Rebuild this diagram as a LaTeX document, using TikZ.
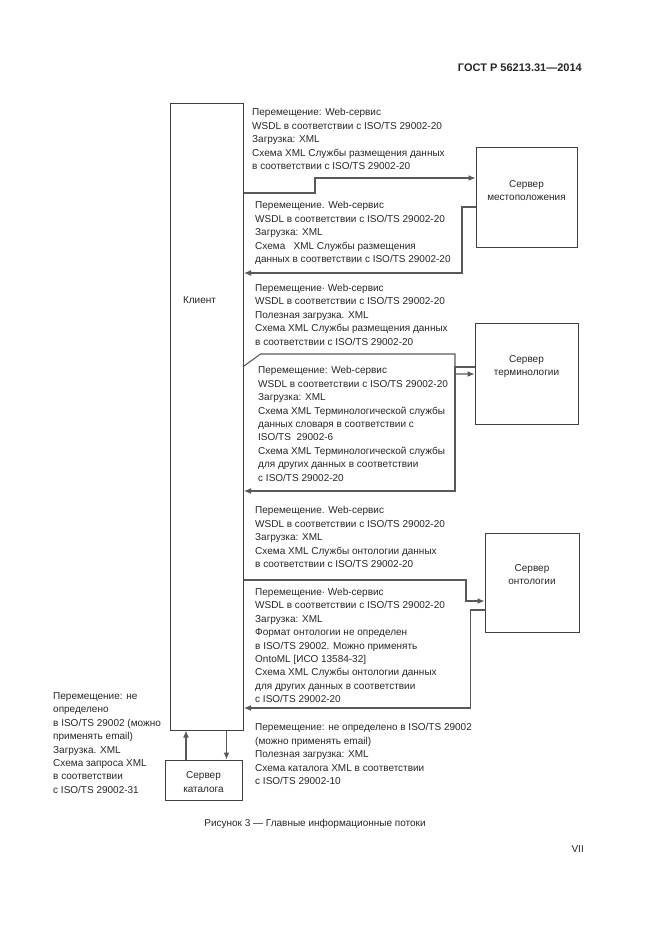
\documentclass[tikz,border=0pt]{standalone}
\usepackage{fontspec}
\setmainfont{Liberation Sans}
\usetikzlibrary{arrows.meta}
\tikzset{
  box/.style={draw=black!75, line width=1pt, inner sep=0pt},
  boxlbl/.style={align=center, inner sep=0pt, text=black!85, font=\fontsize{10}{13.4}\selectfont},
  flow/.style={draw=black!65, line width=1.1pt},
  tip/.style={-{Latex[length=7pt,width=6pt]}},
  msg/.style={anchor=north west, align=left, inner sep=0pt, text=black!85, font=\fontsize{10}{13.4}\selectfont, execute at begin node=\strut},
}
\begin{document}
\begin{tikzpicture}[x=1pt, y=-1pt]
    \useasboundingbox (0,0) rectangle (661,935);
    \node (client) at (206.75,416.5) [box, minimum width=73.5pt, minimum height=627pt] {};
    \node (locsrv) at (526.5,197) [box, minimum width=101pt, minimum height=100pt] {};
    \node (termsrv) at (526.5,373.5) [box, minimum width=103pt, minimum height=101pt] {};
    \node (ontosrv) at (532,582.5) [box, minimum width=94pt, minimum height=99pt] {};
    \node (catsrv) at (203.5,780) [box, minimum width=77pt, minimum height=40pt] {};
    \node (clientlbl) at (199.5,300.5) [boxlbl] {Клиент};
    \node (loclbl) at (526.5,190.5) [boxlbl] {Сервер\\местоположения};
    \node (termlbl) at (526.5,366.5) [boxlbl] {Сервер\\терминологии};
    \node (ontolbl) at (532,574.5) [boxlbl] {Сервер\\онтологии};
    \node (catlbl) at (203.5,782) [boxlbl] {Сервер\\каталога};
    \coordinate (l1) at (315,193);
    \coordinate (l2) at (315,178);
    \draw[flow, tip] (client.east |- l1) -- (l1) -- (l2) -- (locsrv.west |- l2);
    \coordinate (l3) at (462,207);
    \coordinate (l4) at (462,273);
    \draw[flow, tip] (locsrv.west |- l3) -- (l3) -- (l4) -- (client.east |- l4);
    \coordinate (t0) at (243.5,366);
    \coordinate (t1) at (260.5,354);
    \coordinate (t2) at (455,354);
    \coordinate (t3) at (455,374);
    \draw[flow, tip] (client.east |- t0) -- (t1) -- (t2) -- (t3) -- (termsrv.west |- t3);
    \coordinate (t4) at (455,367);
    \coordinate (t5) at (455,491);
    \draw[flow, tip] (termsrv.west |- t4) -- (t4) -- (t5) -- (client.east |- t5);
    \coordinate (o1) at (466,580);
    \coordinate (o2) at (466,601);
    \draw[flow, tip] (client.east |- o1) -- (o1) -- (o2) -- (ontosrv.west |- o2);
    \coordinate (o3) at (470.5,610);
    \coordinate (o4) at (470.5,708);
    \draw[flow, tip] (ontosrv.west |- o3) -- (o3) -- (o4) -- (client.east |- o4);
    \coordinate (k1) at (186,745);
    \coordinate (k2) at (226.5,745);
    \draw[flow, tip] (catsrv.north -| k1) -- (client.south -| k1);
    \draw[flow, tip] (client.south -| k2) -- (catsrv.north -| k2);
    \node (locreq) at (252,108.5) [msg] {Перемещение: Web-сервис\\WSDL в соответствии с ISO/TS 29002-20\\Загрузка: XML\\Схема XML Службы размещения данных\\в соответствии с ISO/TS 29002-20};
    \node (locresp) at (255,201.5) [msg] {Перемещение. Web-сервис\\WSDL в соответствии с ISO/TS 29002-20\\Загрузка: XML\\Схема\ \ \ XML Службы размещения\\данных в соответствии с ISO/TS 29002-20};
    \node (termreq) at (255,284) [msg] {Перемещение· Web-сервис\\WSDL в соответствии с ISO/TS 29002-20\\Полезная загрузка. XML\\Схема XML Службы размещения данных\\в соответствии с ISO/TS 29002-20};
    \node (termresp) at (258,366.5) [msg] {Перемещение: Web-сервис\\WSDL в соответствии с ISO/TS 29002-20\\Загрузка: XML\\Схема XML Терминологической службы\\данных словаря в соответствии с\\ISO/TS\ \ 29002-6\\Схема XML Терминологической службы\\для других данных в соответствии\\с ISO/TS 29002-20};
    \node (ontoreq) at (255,506.5) [msg] {Перемещение. Web-сервис\\WSDL в соответствии с ISO/TS 29002-20\\Загрузка: XML\\Схема XML Службы онтологии данных\\в соответствии с ISO/TS 29002-20};
    \node (ontoresp) at (255,588) [msg] {Перемещение· Web-сервис\\WSDL в соответствии с ISO/TS 29002-20\\Загрузка: XML\\Формат онтологии не определен\\в ISO/TS 29002. Можно применять\\OntoML [ИСО 13584-32]\\Схема XML Службы онтологии данных\\для других данных в соответствии\\с ISO/TS 29002-20};
    \node (catreq) at (53,692.5) [msg] {Перемещение: не\\определено\\в ISO/TS 29002 (можно\\применять email)\\Загрузка. XML\\Схема запроса XML\\в соответствии\\с ISO/TS 29002-31};
    \node (catresp) at (255,723.5) [msg] {Перемещение: не определено в ISO/TS 29002\\(можно применять email)\\Полезная загрузка: XML\\Схема каталога XML в соответствии\\с ISO/TS 29002-10};
    \node (gost) at (582,71) [anchor=base east, inner sep=0pt, text=black!85, font=\bfseries\fontsize{11}{13}\selectfont] {ГОСТ Р 56213.31—2014};
    \node (caption) at (315,826) [anchor=base, inner sep=0pt, text=black!85, font=\fontsize{10}{13}\selectfont] {Рисунок 3 — Главные информационные потоки};
    \node (pageno) at (584,852) [anchor=base east, inner sep=0pt, text=black!85, font=\fontsize{10}{13}\selectfont] {VII};
\end{tikzpicture}
\end{document}
